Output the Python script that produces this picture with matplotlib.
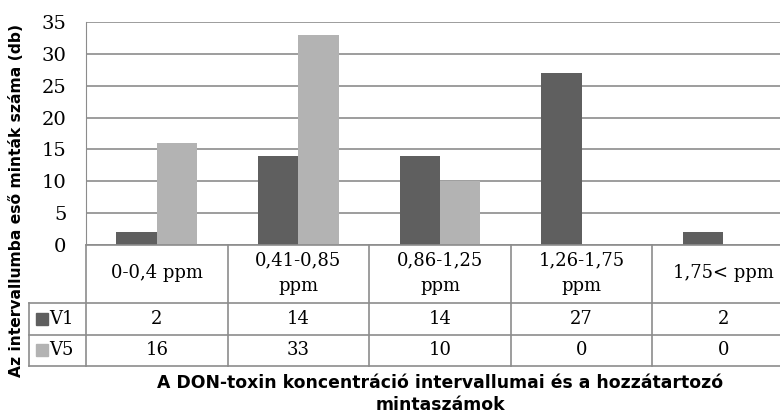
import numpy as np
import matplotlib.pyplot as plt

# adatok
categories = ['0-0,4 ppm', '0,41-0,85\nppm', '0,86-1,25\nppm', '1,26-1,75\nppm', '1,75< ppm']
series_names = ['V1', 'V5']
v1 = [2, 14, 14, 27, 2]
v5 = [16, 33, 10, 0, 0]
y_ticks = [0, 5, 10, 15, 20, 25, 30, 35]

colors = ['#5f5f5f', '#b3b3b3']
line_col = '#8c8c8c'
serif = 'DejaVu Serif'
fs = 13

W, H = 780, 415
fig = plt.figure(figsize=(W / 100, H / 100), dpi=100)


def px(l, t, r, b):
    """pixel box -> figure fraction"""
    return [l / W, 1 - b / H, (r - l) / W, (b - t) / H]


# oszlopdiagram
ax = fig.add_axes(px(86, 22, 794, 245))
x = np.arange(len(categories))
bw = 0.285
ax.bar(x - bw / 2, v1, bw, color=colors[0], zorder=3)
ax.bar(x + bw / 2, v5, bw, color=colors[1], zorder=3)
ax.set_xlim(-0.5, len(categories) - 0.5)
ax.set_ylim(0, 35)
ax.set_yticks(y_ticks)
ax.set_xticks([])
ax.yaxis.grid(True, color=line_col, lw=1.2)
for s in ['top', 'right', 'bottom']:
    ax.spines[s].set_visible(False)
ax.spines['left'].set_color(line_col)
ax.tick_params(axis='y', length=0, pad=14, labelsize=14)
for lab in ax.get_yticklabels():
    lab.set_family(serif)

fig.text(17 / W, 1 - 200 / H, 'Az intervallumba eső minták száma (db)', rotation=90,
         ha='center', va='center', fontsize=11.2, fontweight='bold')

# adattábla a diagram alatt
tx = fig.add_axes(px(86, 245, 794, 366))
tx.set_xlim(-0.5, len(categories) - 0.5)
top = 3.87
tx.set_ylim(0, top)
tx.axis('off')
leg_x = -0.5 - 57 / 141.6

kw = dict(color=line_col, lw=1.2, clip_on=False)
tx.plot([-0.5, 4.5], [top, top], **kw)
for yy in [0, 1, 2]:
    tx.plot([leg_x, 4.5], [yy, yy], **kw)
tx.plot([leg_x, leg_x], [0, 2], **kw)
for xx in np.arange(-0.5, 4.0, 1.0):
    tx.plot([xx, xx], [0, top], **kw)

for i, cat in enumerate(categories):
    tx.text(i, (2 + top) / 2 + 0.03, cat, ha='center', va='center', fontsize=fs,
            family=serif, linespacing=1.55)
    tx.text(i, 1.5, str(v1[i]), ha='center', va='center', fontsize=fs, family=serif)
    tx.text(i, 0.5, str(v5[i]), ha='center', va='center', fontsize=fs, family=serif)

for j, (name, c) in enumerate(zip(series_names, colors)):
    yy = 1.5 - j
    tx.plot([leg_x + 0.09], [yy], marker='s', ms=8.5, color=c, clip_on=False)
    tx.text(leg_x + 0.145, yy, name, ha='left', va='center', fontsize=fs, family=serif)

fig.text(440 / W, 1 - 394 / H,
         'A DON-toxin koncentráció intervallumai és a hozzátartozó\nmintaszámok',
         ha='center', va='center', fontsize=12.4, fontweight='bold', linespacing=1.3)

fig.savefig('out.png', dpi=100)
